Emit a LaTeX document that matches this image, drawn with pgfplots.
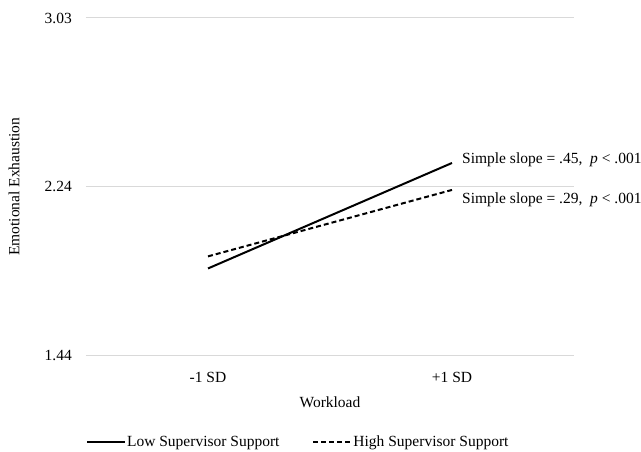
\documentclass[border=0pt]{standalone}
\usepackage{fontspec}
\setmainfont{Liberation Serif}
\usepackage{pgfplots}
\pgfplotsset{compat=1.18}
\newcommand{\chartfont}{\fontsize{15.5}{18}\selectfont}
\begin{document}
\begin{tikzpicture}[font=\chartfont]
\path[use as bounding box] (-86pt,-96.5pt) rectangle (555pt,355.5pt);
\begin{axis}[
  at={(0,0)}, anchor=south west,
  scale only axis, width=488pt, height=337.5pt,
  xmin=-0.5, xmax=1.5, ymin=1.44, ymax=3.03,
  xtick={0,1}, xticklabels={-1 SD,+1 SD},
  ytick={1.44,2.235,3.03}, yticklabels={1.44,2.24,3.03},
  axis line style={draw=none}, major tick length=0pt,
  ymajorgrids, grid style={draw=black!15, line width=1pt},
  /pgf/number format/assume math mode=true,
  tick label style={font=\chartfont, inner sep=0pt},
  yticklabel shift=14pt,
  xticklabel style={anchor=base, yshift=-27.5pt},
  xlabel={Workload}, ylabel={Emotional Exhaustion},
  xlabel style={at={(axis description cs:0.5,-0.1526)}, anchor=base, font=\chartfont, inner sep=0pt},
  ylabel style={at={(axis description cs:-0.1475,0.5)}, anchor=center, font=\chartfont, inner sep=0pt},
  legend columns=2,
  legend style={at={(axis description cs:0.434,-0.2563)}, anchor=center, draw=none, fill=none,
    font=\chartfont, nodes={inner xsep=1pt, inner ysep=0pt},
    /tikz/every even column/.append style={column sep=32pt}},
  legend image code/.code={\draw[#1] (0pt,0pt) -- (38pt,0pt);},
  clip=false,
]
\addplot[black, line width=2pt, mark=none] coordinates {(0,1.850) (1,2.347)};
\addlegendentry{Low Supervisor Support}
\addplot[black, line width=2pt, dash pattern=on 5pt off 3pt, mark=none] coordinates {(0,1.907) (1,2.220)};
\addlegendentry{High Supervisor Support}
\node[anchor=west, inner sep=0pt, xshift=10pt, yshift=3pt] at (axis cs:1,2.347) {Simple slope = .45,\ \ \textit{p} < .001};
\node[anchor=west, inner sep=0pt, xshift=10pt, yshift=-9.5pt] at (axis cs:1,2.220) {Simple slope = .29,\ \ \textit{p} < .001};
\end{axis}
\end{tikzpicture}
\end{document}
